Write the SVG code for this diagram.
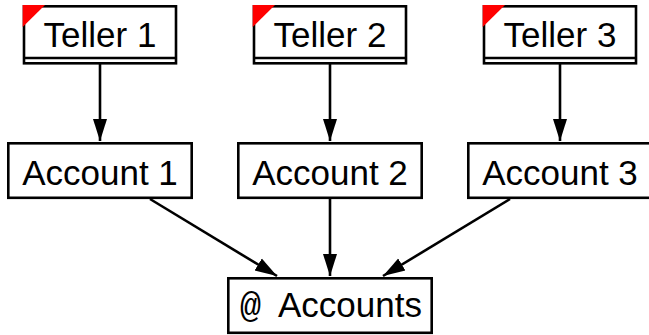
<svg xmlns="http://www.w3.org/2000/svg" width="649" height="335" viewBox="0 0 649 335">
<style>
.box{fill:#fff;stroke:#000;stroke-width:2.6}
.sep{stroke:#000;stroke-width:2.6}
.flag{fill:#ff0000}
.lbl{font-family:"Liberation Sans","DejaVu Sans",sans-serif;font-size:35px;fill:#000;text-anchor:middle}
.mono{font-family:"Liberation Mono","DejaVu Sans Mono",monospace}
.edge{stroke:#000;stroke-width:2.6;fill:none;marker-end:url(#arr)}
</style>
<defs>
<marker id="arr" markerUnits="userSpaceOnUse" markerWidth="24" markerHeight="16" viewBox="0 0 24 16" refX="22" refY="8" orient="auto">
<path d="M0,1 L22,8 L0,15 Z" fill="#000"/>
</marker>
</defs>
<rect width="649" height="335" fill="#fff"/>
<g id="connectors">
<line class="edge" x1="100" y1="64" x2="100" y2="141"/>
<line class="edge" x1="330" y1="64" x2="330" y2="141"/>
<line class="edge" x1="560" y1="64" x2="560" y2="141"/>
<line class="edge" x1="150" y1="199" x2="277" y2="276"/>
<line class="edge" x1="330" y1="199" x2="330" y2="276"/>
<line class="edge" x1="510" y1="199" x2="383" y2="276"/>
</g>
<g id="teller1">
<rect class="box" x="24" y="6.3" width="152" height="57"/>
<line class="sep" x1="24" y1="58" x2="176" y2="58"/>
<polygon class="flag" points="22.7,5 45,5 22.7,27"/>
<text class="lbl" x="100" y="47">Teller 1</text>
</g>
<g id="teller2">
<rect class="box" x="254" y="6.3" width="152" height="57"/>
<line class="sep" x1="254" y1="58" x2="406" y2="58"/>
<polygon class="flag" points="252.7,5 275,5 252.7,27"/>
<text class="lbl" x="330" y="47">Teller 2</text>
</g>
<g id="teller3">
<rect class="box" x="484" y="6.3" width="152" height="57"/>
<line class="sep" x1="484" y1="58" x2="636" y2="58"/>
<polygon class="flag" points="482.7,5 505,5 482.7,27"/>
<text class="lbl" x="560" y="47">Teller 3</text>
</g>
<g id="account1">
<rect class="box" x="8.3" y="143.3" width="183.4" height="54.5"/>
<text class="lbl" x="100" y="185">Account 1</text>
</g>
<g id="account2">
<rect class="box" x="238.3" y="143.3" width="183.4" height="54.5"/>
<text class="lbl" x="330" y="185">Account 2</text>
</g>
<g id="account3">
<rect class="box" x="468.3" y="143.3" width="183.4" height="54.5"/>
<text class="lbl" x="560" y="185">Account 3</text>
</g>
<g id="accounts">
<rect class="box" x="228.3" y="278.3" width="203.4" height="54.5"/>
<text class="lbl" y="317" style="text-anchor:start"><tspan class="mono" x="240">@</tspan><tspan x="278">Accounts</tspan></text>
</g>
</svg>
